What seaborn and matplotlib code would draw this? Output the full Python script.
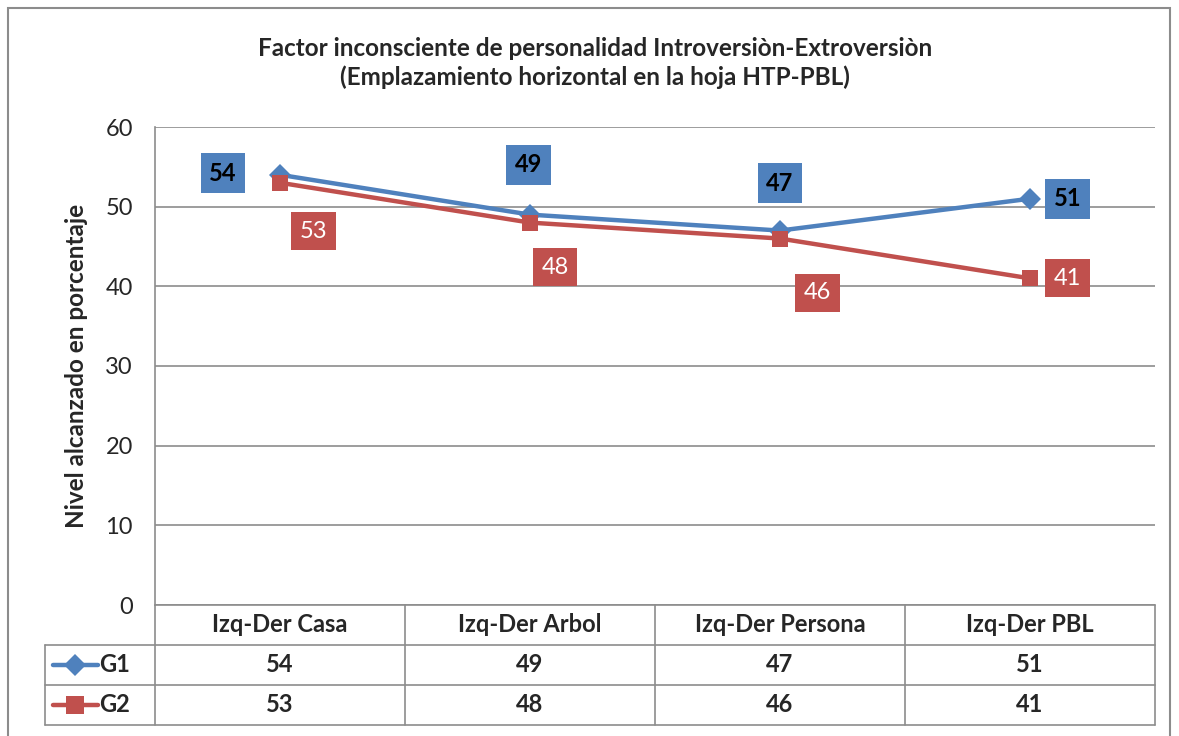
import matplotlib
matplotlib.use('Agg')
import pandas as pd
import seaborn as sns
import matplotlib.pyplot as plt
from matplotlib.lines import Line2D
from matplotlib.patches import Rectangle

# datos
categorias = ['Izq-Der Casa', 'Izq-Der Arbol', 'Izq-Der Persona', 'Izq-Der PBL']
g1 = [54, 49, 47, 51]
g2 = [53, 48, 46, 41]
series = ['G1', 'G2']
titulo = 'Factor inconsciente de personalidad Introversiòn-Extroversiòn\n(Emplazamiento horizontal en la hoja HTP-PBL)'
ylabel = 'Nivel alcanzado en porcentaje'

df = pd.DataFrame({
    'cat': categorias * 2,
    'valor': g1 + g2,
    'serie': ['G1'] * 4 + ['G2'] * 4,
})

sns.set_theme(style='white')
plt.rcParams['font.family'] = ['Lato', 'DejaVu Sans']

azul = '#4F81BD'
rojo = '#C0504D'
gris = '#8C8C8C'

W, H = 1179, 736
fig = plt.figure(figsize=(W / 100, H / 100), dpi=100)
ax = fig.add_axes([155 / W, 1 - 605 / H, 1000 / W, 478 / H])

sns.lineplot(data=df[df.serie == 'G1'], x='cat', y='valor', color=azul, marker='D',
             linewidth=3.2, markersize=11, markeredgewidth=0, sort=False, ax=ax)
sns.lineplot(data=df[df.serie == 'G2'], x='cat', y='valor', color=rojo, marker='s',
             linewidth=3.2, markersize=12, markeredgewidth=0, sort=False, ax=ax)

ax.set_xlim(-0.5, 3.5)
ax.set_ylim(0, 60)
ax.set_yticks(range(0, 61, 10))
ax.yaxis.grid(True, color=gris, linewidth=1.2)
ax.set_axisbelow(True)
ax.set_xticks([])
ax.set_xlabel('')
ax.set_ylabel(ylabel, fontsize=17.5, fontweight='bold', labelpad=12)
ax.tick_params(axis='y', labelsize=17, pad=16, length=0)
for s in ['top', 'right', 'bottom']:
    ax.spines[s].set_visible(False)
ax.spines['left'].set_color(gris)
ax.spines['left'].set_linewidth(1.2)

# etiquetas de datos
off1 = [(-41, 1), (-1, 36), (0, 34), (27, 0)]
off2 = [(24, -35), (18, -32), (27, -39), (27, 0)]
for i, (v, o) in enumerate(zip(g1, off1)):
    ax.annotate(str(v), (i, v), xytext=o, textcoords='offset points',
                ha='center', va='center', fontsize=17, fontweight='bold', color='black',
                bbox=dict(boxstyle='square,pad=0.36', fc=azul, ec='none'))
for i, (v, o) in enumerate(zip(g2, off2)):
    ax.annotate(str(v), (i, v), xytext=o, textcoords='offset points',
                ha='center', va='center', fontsize=17, color='white',
                bbox=dict(boxstyle='square,pad=0.36', fc=rojo, ec='none'))

# tabla de datos
fila = 40 / 478
tr = ax.get_xaxis_transform()
xl = -0.5 - 110 / 250
kw = dict(color=gris, linewidth=1.2, transform=tr, clip_on=False)
ax.add_line(Line2D([-0.5, 3.5], [0, 0], **kw))
ax.add_line(Line2D([xl, 3.5], [-fila, -fila], **kw))
ax.add_line(Line2D([xl, 3.5], [-2 * fila, -2 * fila], **kw))
ax.add_line(Line2D([xl, 3.5], [-3 * fila, -3 * fila], **kw))
ax.add_line(Line2D([xl, xl], [-fila, -3 * fila], **kw))
for xb in [-0.5, 0.5, 1.5, 2.5, 3.5]:
    ax.add_line(Line2D([xb, xb], [0, -3 * fila], **kw))
for i, c in enumerate(categorias):
    ax.text(i, -0.5 * fila, c, transform=tr, ha='center', va='center',
            fontsize=17, fontweight='bold')
    ax.text(i, -1.5 * fila, str(g1[i]), transform=tr, ha='center', va='center',
            fontsize=17, fontweight='bold')
    ax.text(i, -2.5 * fila, str(g2[i]), transform=tr, ha='center', va='center',
            fontsize=17, fontweight='bold')

# claves de leyenda
for j, (s, col, mk) in enumerate(zip(series, [azul, rojo], ['D', 's'])):
    yy = -(1.5 + j) * fila
    ax.add_line(Line2D([xl + 0.03, xl + 0.12, xl + 0.21], [yy, yy, yy], color=col,
                       linewidth=3.2, marker=mk, markevery=[1],
                       markersize=13 if mk == 's' else 11, markeredgewidth=0,
                       transform=tr, clip_on=False))
    ax.text(xl + 0.215, yy, s, transform=tr, ha='left', va='center',
            fontsize=17, fontweight='bold')

# marco exterior
fig.patches.append(Rectangle((8 / W, -0.05), 1162 / W, 1.05 - 8 / H,
                             transform=fig.transFigure, fill=False,
                             edgecolor=gris, linewidth=1.5))

fig.text(595 / W, 1 - 63 / H, titulo, ha='center', va='center', fontsize=17.5,
         fontweight='bold', linespacing=1.3)

fig.savefig('out.png', dpi=100)
